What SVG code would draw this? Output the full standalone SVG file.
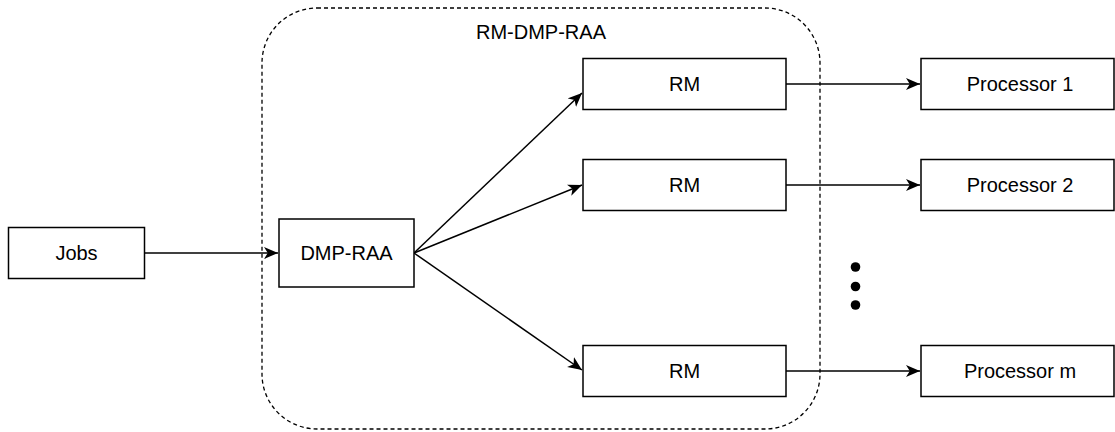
<svg xmlns="http://www.w3.org/2000/svg" width="1115" height="432" viewBox="0 0 1115 432">
<style>
.box{fill:#fff;stroke:#000;stroke-width:1.5}
.lbl{font-family:"Liberation Sans",Arial,sans-serif;font-size:20px;fill:#000;text-anchor:middle;dominant-baseline:central}
.edge{fill:none;stroke:#000;stroke-width:1.5}
</style>
<defs>
<marker id="arr" markerUnits="userSpaceOnUse" markerWidth="15" markerHeight="13" viewBox="0 0 15 13" refX="14" refY="6.5" orient="auto">
<path d="M0,0.5 L14,6.5 L0,12.5 L3.8,6.5 Z" fill="#000"/>
</marker>
</defs>
<g id="container">
<rect x="262" y="8" width="558" height="421" rx="55" ry="55" fill="none" stroke="#000" stroke-width="1.3" stroke-dasharray="4 3"/>
<text class="lbl" x="541" y="32">RM-DMP-RAA</text>
</g>
<g id="connectors">
<line class="edge" x1="144" y1="253" x2="278" y2="253" marker-end="url(#arr)"/>
<line class="edge" x1="414" y1="253" x2="582" y2="93" marker-end="url(#arr)"/>
<line class="edge" x1="414" y1="253" x2="582" y2="185" marker-end="url(#arr)"/>
<line class="edge" x1="414" y1="253" x2="582" y2="370" marker-end="url(#arr)"/>
<line class="edge" x1="786" y1="84" x2="920" y2="84" marker-end="url(#arr)"/>
<line class="edge" x1="786" y1="185" x2="920" y2="185" marker-end="url(#arr)"/>
<line class="edge" x1="786" y1="371" x2="920" y2="371" marker-end="url(#arr)"/>
</g>
<g id="jobs"><rect class="box" x="8.5" y="227.5" width="136" height="51"/><text class="lbl" x="76.5" y="253">Jobs</text></g>
<g id="dmp-raa"><rect class="box" x="279" y="219" width="135" height="68"/><text class="lbl" x="346.5" y="253">DMP-RAA</text></g>
<g id="rm1"><rect class="box" x="583" y="58.5" width="203" height="51"/><text class="lbl" x="684.5" y="84">RM</text></g>
<g id="rm2"><rect class="box" x="583" y="159.5" width="203" height="51"/><text class="lbl" x="684.5" y="185">RM</text></g>
<g id="rm3"><rect class="box" x="583" y="345.5" width="203" height="51"/><text class="lbl" x="684.5" y="371">RM</text></g>
<g id="p1"><rect class="box" x="921" y="58.5" width="193" height="51"/><text class="lbl" x="1020" y="84">Processor 1</text></g>
<g id="p2"><rect class="box" x="921" y="159.5" width="193" height="51"/><text class="lbl" x="1020" y="185">Processor 2</text></g>
<g id="pm"><rect class="box" x="921" y="345.5" width="193" height="51"/><text class="lbl" x="1020" y="371">Processor m</text></g>
<g id="dots" fill="#000">
<circle cx="855.5" cy="267" r="4.8"/>
<circle cx="855.5" cy="286.5" r="4.8"/>
<circle cx="855.5" cy="305" r="4.8"/>
</g>
</svg>
